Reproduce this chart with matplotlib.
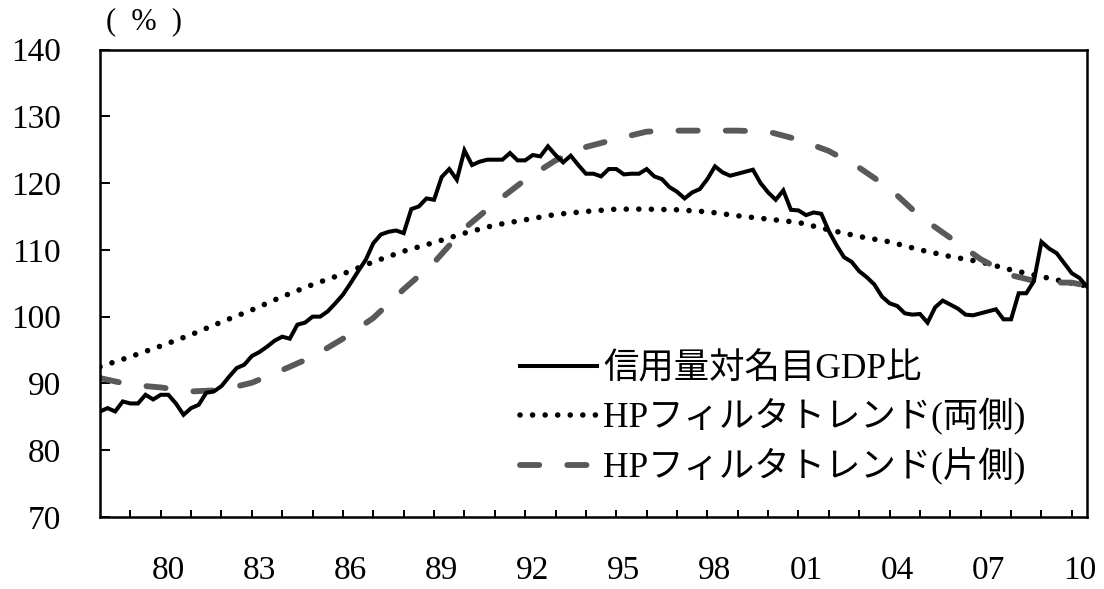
import numpy as np
import matplotlib
matplotlib.use('Agg')
import matplotlib.pyplot as plt

plt.rcParams['font.family'] = ['Liberation Serif', 'Noto Sans CJK JP', 'DejaVu Sans']

# quarterly data, first point 1977Q4
start_year = 1977.75
credit_gdp = [85.8, 86.3, 85.8, 87.3, 87.0, 87.0, 88.3, 87.6, 88.3, 88.3,
              87.0, 85.3, 86.3, 86.8, 88.6, 88.8, 89.6, 91.0, 92.3, 92.8,
              94.1, 94.7, 95.5, 96.4, 97.0, 96.7, 98.8, 99.1, 100.0, 100.0,
              100.8, 102.0, 103.3, 105.0, 106.8, 108.5, 111.0, 112.3, 112.7, 112.9,
              112.5, 116.1, 116.5, 117.7, 117.5, 120.9, 122.1, 120.5, 124.9, 122.7,
              123.2, 123.5, 123.5, 123.5, 124.5, 123.4, 123.4, 124.2, 124.0, 125.5,
              124.2, 123.1, 124.1, 122.7, 121.4, 121.4, 121.0, 122.1, 122.1, 121.3,
              121.4, 121.4, 122.1, 121.0, 120.6, 119.4, 118.7, 117.7, 118.6, 119.1,
              120.6, 122.5, 121.6, 121.1, 121.4, 121.7, 122.0, 120.0, 118.6, 117.5,
              118.9, 116.0, 115.9, 115.2, 115.6, 115.4, 112.8, 110.7, 108.9, 108.2,
              106.8, 105.9, 104.8, 103.0, 102.0, 101.6, 100.5, 100.3, 100.4, 99.1,
              101.4, 102.4, 101.8, 101.2, 100.3, 100.2, 100.5, 100.8, 101.1, 99.6,
              99.6, 103.5, 103.5, 105.3, 111.2, 110.2, 109.5, 108.0, 106.5, 105.8,
              104.5]

# trends read once a year (every 4th quarter) plus the last quarter
trend_steps = list(range(0, 129, 4)) + [130]
hp_two_sided = [92.5, 94.0, 95.6, 97.3, 99.2, 101.0, 103.0, 104.8, 106.4, 108.2,
                109.8, 111.1, 112.5, 113.7, 114.5, 115.3, 115.75, 116.1, 116.1, 116.0,
                115.7, 115.1, 114.6, 114.1, 113.0, 112.0, 111.2, 110.0, 109.0, 108.2,
                107.0, 106.0, 105.0, 104.6]
hp_one_sided = [90.8, 89.8, 89.4, 88.8, 89.0, 90.1, 92.0, 94.0, 96.7, 99.8,
                104.1, 108.1, 113.2, 117.0, 120.5, 123.4, 125.4, 126.6, 127.7, 127.85,
                127.85, 127.85, 127.7, 126.5, 124.8, 122.3, 119.2, 115.0, 111.8, 108.6,
                106.2, 105.1, 105.1, 104.6]

labels = ['信用量対名目GDP比', 'HPフィルタトレンド(両側)', 'HPフィルタトレンド(片側)']
label_years = list(range(1980, 2011, 3))
yticks = list(range(70, 141, 10))

t = start_year + np.arange(len(credit_gdp)) / 4
t_trend = start_year + np.array(trend_steps) / 4

fig = plt.figure(figsize=(11.04, 5.89), dpi=100)
ax = fig.add_axes([100 / 1104, 1 - 517 / 589, 987 / 1104, 467.5 / 589])

ax.plot(t, credit_gdp, color='black', lw=2.9, solid_joinstyle='miter', label=labels[0], zorder=3)
ax.plot(t_trend, hp_two_sided, color='black', lw=4.0, linestyle=(0, (0.01, 2.25)),
        dash_capstyle='round', label=labels[1], zorder=2)
ax.plot(t_trend, hp_one_sided, color='#595959', lw=4.2, linestyle=(0, (3.3, 4.8)),
        dash_capstyle='round', label=labels[2], zorder=2)

ax.set_xlim(start_year, start_year + (len(credit_gdp) - 1) / 4)
ax.set_ylim(70, 140)
ax.set_yticks(yticks)
ax.set_yticklabels([str(v) for v in yticks])
ax.set_xticks(label_years)
ax.set_xticklabels([f'{y % 100:02d}' for y in label_years])
ax.set_xticks(np.arange(1978.75, 2010, 1.0), minor=True)

ax.tick_params(axis='y', direction='in', length=7, width=1.4, pad=28, labelsize=24)
ax.tick_params(axis='x', which='major', length=0, pad=28, labelsize=24)
ax.tick_params(axis='x', which='minor', direction='in', length=5, width=1.4)
for s in ax.spines.values():
    s.set_linewidth(1.8)

fig.text(144 / 1104, 1 - 22 / 589, '(  %  )', ha='center', va='center', fontsize=22)

ax.legend(loc='upper left', bbox_to_anchor=(520 / 1104, 1 - 353 / 589),
          bbox_transform=fig.transFigure, frameon=False, fontsize=25.5,
          handlelength=2.17, handletextpad=0.17, labelspacing=0.34,
          borderpad=0, borderaxespad=0)

fig.savefig('out.png', dpi=100)
